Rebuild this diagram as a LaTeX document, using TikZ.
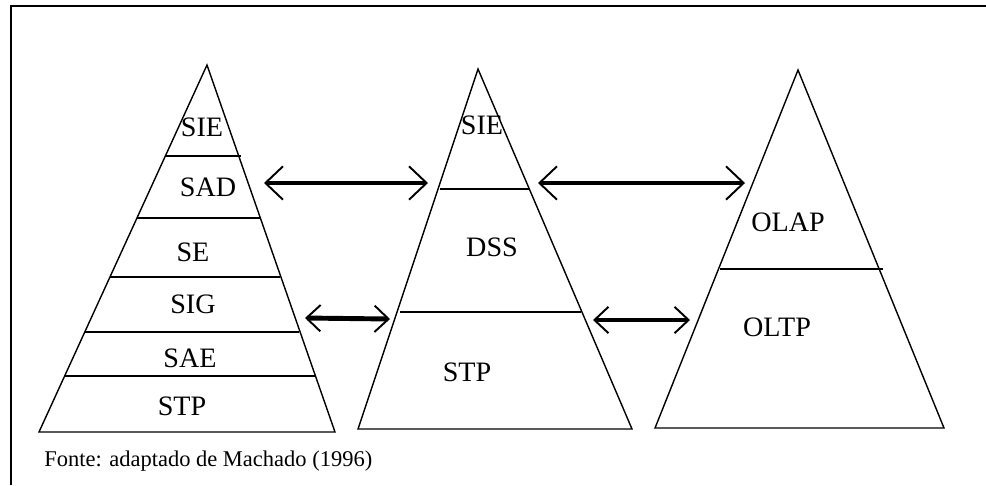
\documentclass[tikz,border=0pt]{standalone}
\usepackage{fontspec}
\setmainfont{Liberation Serif}
\usetikzlibrary{positioning}
\usetikzlibrary{calc}
\usetikzlibrary{arrows.meta}

\tikzset{
  layer/.style={font=\fontsize{16}{18}\selectfont, inner sep=0pt},
  level/.style={line width=0.8pt},
  bigarrow/.style={line width=2.8pt, {Straight Barb[length=10pt,width=19pt,line width=1.1pt]}-{Straight Barb[length=10pt,width=19pt,line width=1.1pt]}},
  smallarrow/.style={line width=2.8pt, {Straight Barb[length=8pt,width=15pt,line width=1.1pt]}-{Straight Barb[length=8pt,width=15pt,line width=1.1pt]}}
}

\begin{document}
\begin{tikzpicture}[x=0.02cm, y=-0.02cm]
\useasboundingbox (0,0) rectangle (986,485);
\fill[white] (0,0) rectangle (986,485);
\draw[line width=1.2pt] (11,485) -- (11,6) -- (986,6);

% left pyramid
\draw[level] (39,432) -- (207,65) -- (335,432) -- cycle;
\draw[level] (165,156) -- (241,156);
\draw[level] (137,218) -- (261,218);
\draw[level] (110,277) -- (280,277);
\draw[level] (85,332) -- (299,332);
\draw[level] (65,376) -- (316,376);
\node[layer](SIEa) at (202,127){SIE};
\node[layer](SAD) at (208,187){SAD};
\node[layer](SE) at (193,252){SE};
\node[layer](SIG) at (193,304){SIG};
\node[layer](SAE) at (190,358){SAE};
\node[layer](STPa) at (182,406){STP};

% middle pyramid
\draw[level] (358,429) -- (478,69) -- (632,429) -- cycle;
\draw[level] (440,189) -- (529,189);
\draw[level] (400,312) -- (581,312);
\node[layer](SIEb) at (482,125){SIE};
\node[layer](DSS) at (492,247){DSS};
\node[layer](STPb) at (467,372){STP};

% right pyramid
\draw[level] (655,428) -- (798,70) -- (944,428) -- cycle;
\draw[level] (720,269) -- (883,269);
\node[layer](OLAP) at (788,222){OLAP};
\node[layer](OLTP) at (777,327){OLTP};

% arrow ends
\coordinate (sadR) at (264,183);
\coordinate (dssL) at (428,183);
\coordinate (sigR) at (305,318);
\coordinate (stpL) at (390,319);
\coordinate (dssR) at (538,183);
\coordinate (olapL) at (745,183);
\coordinate (stpR) at (593,320);
\coordinate (oltpL) at (690,320);

\path
(sadR) edge[bigarrow] (dssL)
(dssR) edge[bigarrow] (olapL)
(sigR) edge[smallarrow] (stpL)
(stpR) edge[smallarrow] (oltpL);

\node[font=\fontsize{12.8}{14}\selectfont, anchor=west, inner sep=0pt](fonte) at (44,461){Fonte: adaptado de Machado (1996)};
\end{tikzpicture}
\end{document}
